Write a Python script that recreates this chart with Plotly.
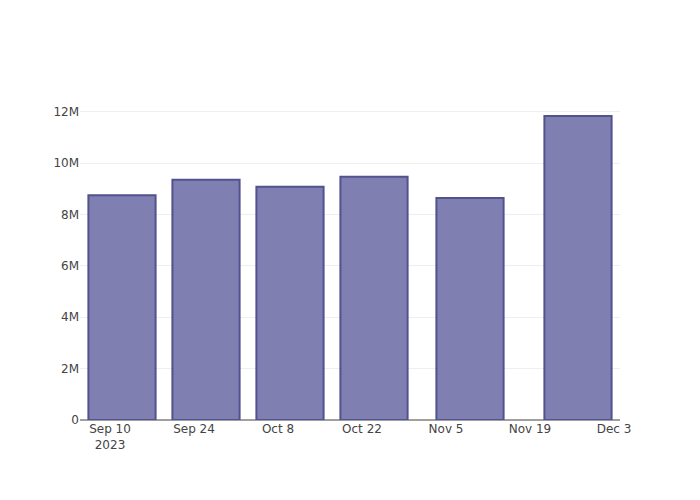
import plotly.graph_objects as go

dates = ["2023-09-12", "2023-09-26", "2023-10-10", "2023-10-24", "2023-11-09", "2023-11-27"]
values = [8.75e6, 9.35e6, 9.08e6, 9.47e6, 8.64e6, 11.83e6]

fig = go.Figure()
fig.add_trace(go.Bar(
    x=dates,
    y=values,
    marker=dict(color="#7f7fb1", line=dict(color="#52528e", width=2)),
))

fig.update_layout(
    width=700,
    height=500,
    plot_bgcolor="white",
    paper_bgcolor="white",
    font=dict(family="DejaVu Sans, sans-serif", size=12, color="#444"),
    showlegend=False,
    bargap=0.2,
    xaxis=dict(
        type="date",
        range=["2023-09-05", "2023-12-04"],
        showgrid=False,
        showline=False,
        ticks="",
    ),
    yaxis=dict(
        showgrid=True,
        gridcolor="#eeeeee",
        zeroline=True,
        zerolinecolor="#a0a0a0",
        zerolinewidth=2,
        dtick=2e6,
        tickformat="~s",
    ),
)

fig.write_html("out.html")
